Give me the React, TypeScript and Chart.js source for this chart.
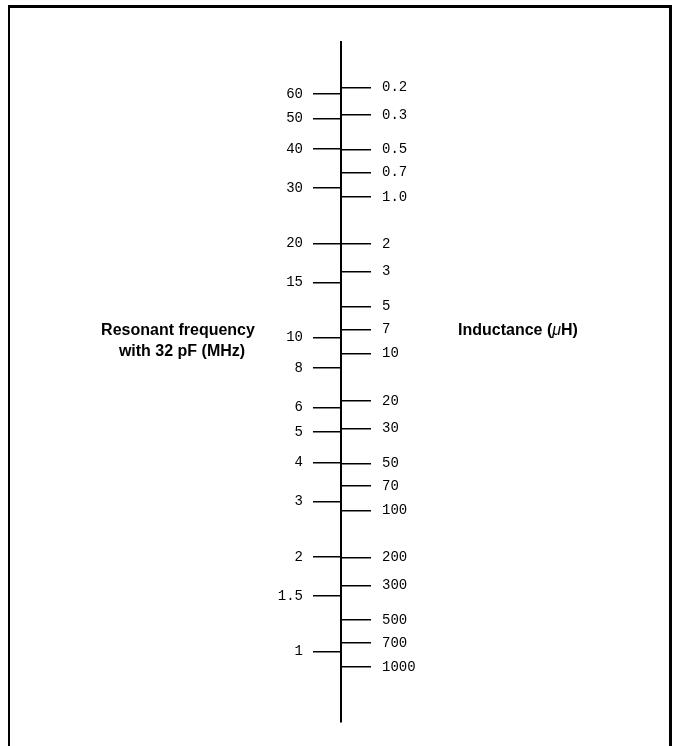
import React, { useEffect, useRef } from "react";
import { Chart, registerables } from "chart.js";

Chart.register(...registerables);

// ---- data ----
const CAPACITANCE_PF = 32;
const freqTicks = [60, 50, 40, 30, 20, 15, 10, 8, 6, 5, 4, 3, 2, 1.5, 1];
const freqLabels = ["60", "50", "40", "30", "20", "15", "10", "8", "6", "5", "4", "3", "2", "1.5", "1"];
const indTicks = [0.2, 0.3, 0.5, 0.7, 1, 2, 3, 5, 7, 10, 20, 30, 50, 70, 100, 200, 300, 500, 700, 1000];
const indLabels = ["0.2", "0.3", "0.5", "0.7", "1.0", "2", "3", "5", "7", "10", "20", "30", "50", "70", "100", "200", "300", "500", "700", "1000"];
const freqRange = [0.595, 87.8]; // MHz at bottom / top of the scale line
const leftTitle = ["Resonant frequency", "with 32 pF (MHz)"];
const rightTitle = ["Inductance (", "\u03bc", "H)"];

// inductance (uH) that resonates with CAPACITANCE_PF at f (MHz)
const inductanceFor = (fMHz: number) => {
  const w = 2 * Math.PI * fMHz * 1e6;
  return (1 / (w * w * CAPACITANCE_PF * 1e-12)) * 1e6;
};

const TICK_FONT = { family: '"Liberation Mono", "DejaVu Sans Mono", monospace', size: 14 };

const titlesPlugin = {
  id: "nomoTitles",
  afterDraw(chart: any) {
    const ctx = chart.ctx;
    ctx.save();
    ctx.fillStyle = "#000";
    ctx.textBaseline = "middle";
    ctx.textAlign = "center";
    ctx.font = 'bold 16px "Liberation Sans", Arial, sans-serif';
    ctx.fillText(leftTitle[0], 178, 331);
    ctx.fillText(leftTitle[1], 182, 352);
    // right title with italic mu
    ctx.textAlign = "left";
    const fBold = 'bold 16px "Liberation Sans", Arial, sans-serif';
    const fItal = 'italic 16px "Liberation Sans", Arial, sans-serif';
    ctx.font = fBold;
    const w0 = ctx.measureText(rightTitle[0]).width;
    const w2 = ctx.measureText(rightTitle[2]).width;
    ctx.font = fItal;
    const w1 = ctx.measureText(rightTitle[1]).width;
    let x = 518 - (w0 + w1 + w2) / 2;
    ctx.font = fBold;
    ctx.fillText(rightTitle[0], x, 331);
    x += w0;
    ctx.font = fItal;
    ctx.fillText(rightTitle[1], x, 331);
    x += w1;
    ctx.font = fBold;
    ctx.fillText(rightTitle[2], x, 331);
    ctx.restore();
  },
};

export default function App() {
  const ref = useRef<HTMLCanvasElement | null>(null);

  useEffect(() => {
    if (!ref.current) return;
    const chart = new Chart(ref.current, {
      type: "line",
      data: { datasets: [] },
      options: {
        responsive: false,
        animation: false,
        events: [],
        layout: { padding: { top: 42, bottom: 24, left: 241, right: 234 } },
        plugins: { legend: { display: false }, tooltip: { enabled: false } },
        scales: {
          x: { display: false },
          yF: {
            type: "logarithmic",
            position: "left",
            min: freqRange[0],
            max: freqRange[1],
            bounds: "data",
            afterBuildTicks: (s: any) => {
              s.ticks = freqTicks.map((v) => ({ value: v }));
            },
            afterFit: (s: any) => {
              s.width = 100;
            },
            ticks: {
              autoSkip: false,
              color: "#000",
              font: TICK_FONT,
              padding: 10,
              callback: (_v: any, i: number) => freqLabels[i],
            },
            grid: { drawOnChartArea: false, drawTicks: true, tickLength: 28, lineWidth: 1.5, color: "#000" },
            border: { display: true, width: 2, color: "#000" },
          },
          yL: {
            type: "logarithmic",
            position: "right",
            reverse: true,
            min: inductanceFor(freqRange[1]),
            max: inductanceFor(freqRange[0]),
            bounds: "data",
            afterBuildTicks: (s: any) => {
              s.ticks = indTicks.map((v) => ({ value: v }));
            },
            afterFit: (s: any) => {
              s.width = 100;
            },
            ticks: {
              autoSkip: false,
              color: "#000",
              font: TICK_FONT,
              padding: 11,
              callback: (_v: any, i: number) => indLabels[i],
            },
            grid: { drawOnChartArea: false, drawTicks: true, tickLength: 29, lineWidth: 1.5, color: "#000" },
            border: { display: false },
          },
        },
      } as any,
      plugins: [titlesPlugin],
    });
    return () => chart.destroy();
  }, []);

  return (
    <div style={{ position: "fixed", left: 0, top: 0, width: 676, height: 746, background: "#fff", overflow: "hidden" }}>
      <div
        style={{
          position: "absolute",
          left: 8,
          top: 5,
          width: 664,
          height: 800,
          boxSizing: "border-box",
          borderTop: "3px solid #000",
          borderRight: "3px solid #000",
          borderLeft: "2px solid #000",
        }}
      />
      <canvas ref={ref} width={676} height={746} style={{ position: "absolute", left: 0, top: 0, width: 676, height: 746 }} />
    </div>
  );
}
